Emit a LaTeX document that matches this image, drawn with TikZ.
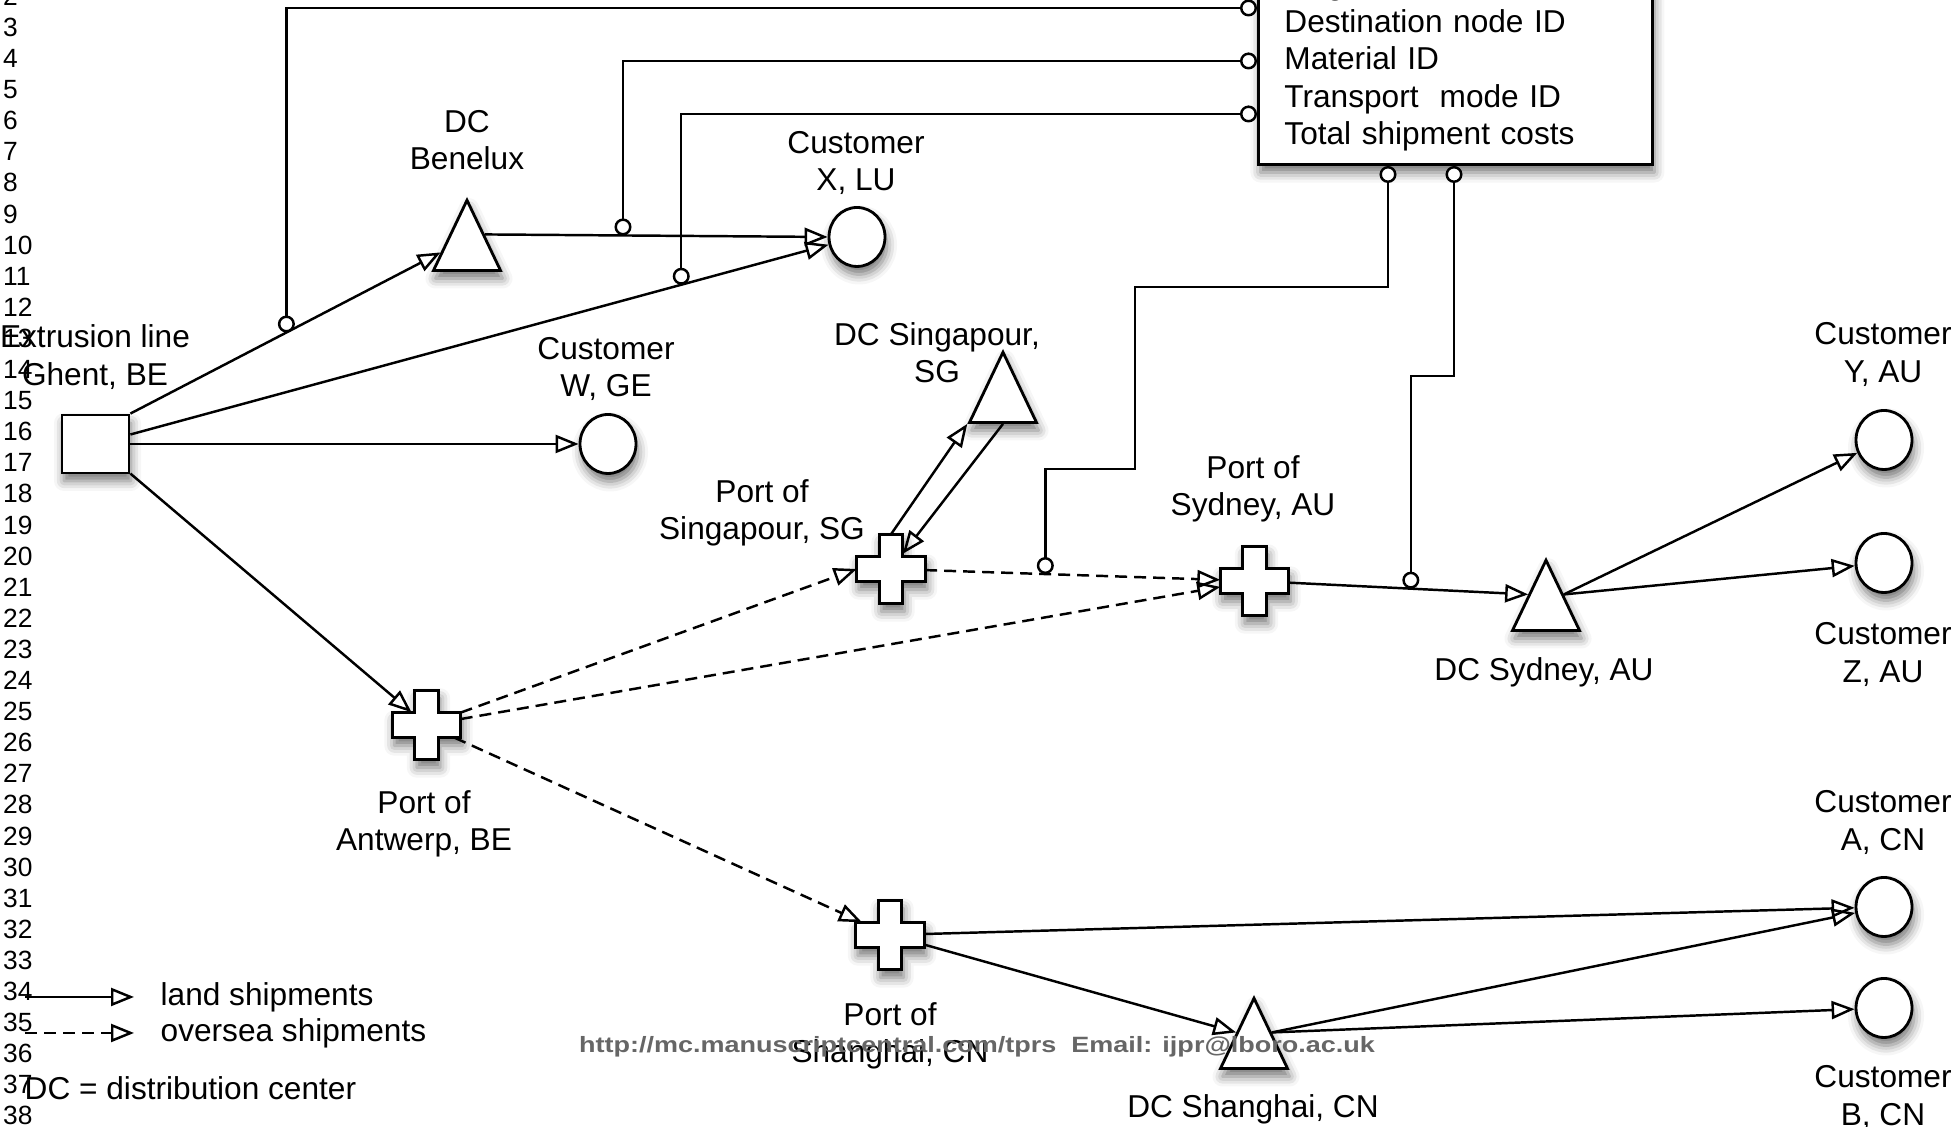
\documentclass[tikz,border=0pt]{standalone}
\usepackage{fontspec}
\setmainfont{Liberation Sans}
\usetikzlibrary{arrows.meta, shapes.geometric, shadows.blur, calc}

% port = plus sign built from two arm nodes
\newcommand{\portcross}[2]{%
  \node[armh] (#1) at (#2) {};
  \node[armv] (#1v) at (#2) {};
  \draw[outline, fill=white, soft] (#1.north west) -- (#1.north west -| #1v.west) -- (#1v.north west)
    -- (#1v.north east) -- (#1.north east -| #1v.east) -- (#1.north east)
    -- (#1.south east) -- (#1.south east -| #1v.east) -- (#1v.south east)
    -- (#1v.south west) -- (#1.south west -| #1v.west) -- (#1.south west) -- cycle;
}

\begin{document}
\begin{tikzpicture}[
  outline/.style={draw=black, line width=0.8pt},
  soft/.style={blur shadow={shadow xshift=0.02cm, shadow yshift=-0.08cm, shadow blur radius=0.1cm, shadow opacity=55}},
  plant/.style={outline, fill=white, soft, rectangle, minimum width=0.67cm, minimum height=0.58cm, inner sep=0pt},
  dc/.style={outline, fill=white, soft, isosceles triangle, isosceles triangle apex angle=51,
    shape border rotate=90, minimum width=0.67cm, minimum height=0.70cm, inner sep=0pt, anchor=apex},
  cust/.style={outline, fill=white, soft, ellipse, minimum width=0.56cm, minimum height=0.59cm, inner sep=0pt},
  armh/.style={rectangle, minimum width=0.67cm, minimum height=0.24cm, inner sep=0pt},
  armv/.style={rectangle, minimum width=0.22cm, minimum height=0.68cm, inner sep=0pt},
  record/.style={outline, fill=white, soft, rectangle, anchor=south west, text width=3.42cm,
    inner xsep=0.26cm, minimum height=2.06cm, align=left, font=\fontsize{9}{10.65}\selectfont},
  lbl/.style={align=center, inner sep=0pt, font=\fontsize{9}{10.6}\selectfont},
  lineno/.style={anchor=west, inner sep=0pt, font=\fontsize{7.5}{8}\selectfont},
  land/.style={line width=0.7pt, -{Triangle[open, length=0.23cm, width=0.18cm]}},
  sea/.style={land, dash pattern=on 0.12cm off 0.07cm},
  link/.style={line width=0.7pt, {Circle[open, fill=white, length=0.17cm]}-{Circle[open, fill=white, length=0.17cm]}}
]
  \useasboundingbox (0,0) rectangle (19.51,11.27);
  \clip (0,0) rectangle (19.51,11.27);

  % line numbers
  \foreach \n in {2,...,38}
    \node[lineno] (ln\n) at (0.025,{10.996-(\n-3)*0.311}) {\n};

  % plant
  \node[plant] (ext) at (0.955,6.83) {};
  \node[lbl] (ext-l) at (0.95,7.70) {Extrusion line\\Ghent, BE};

  % distribution centers
  \node[dc] (dcb) at (4.67,9.30) {};
  \node[lbl] (dcb-l) at (4.67,9.865) {DC\\Benelux};
  \node[dc] (dcsg) at (10.03,7.78) {};
  \node[lbl] (dcsg-l) at (9.37,7.74) {DC Singapour,\\SG};
  \node[dc] (dcsy) at (15.46,5.70) {};
  \node[lbl] (dcsy-l) at (15.44,4.55) {DC Sydney, AU};
  \node[dc] (dcsh) at (12.54,1.32) {};
  \node[lbl] (dcsh-l) at (12.53,0.18) {DC Shanghai, CN};

  % customers
  \node[cust] (cx) at (8.57,8.90) {};
  \node[lbl] (cx-l) at (8.56,9.64) {Customer\\X, LU};
  \node[cust] (cw) at (6.08,6.83) {};
  \node[lbl] (cw-l) at (6.06,7.58) {Customer\\W, GE};
  \node[cust] (cy) at (18.84,6.87) {};
  \node[lbl] (cy-l) at (18.83,7.725) {Customer\\Y, AU};
  \node[cust] (cz) at (18.84,5.64) {};
  \node[lbl] (cz-l) at (18.83,4.725) {Customer\\Z, AU};
  \node[cust] (ca) at (18.84,2.20) {};
  \node[lbl] (ca-l) at (18.83,3.045) {Customer\\A, CN};
  \node[cust] (cb) at (18.84,1.19) {};
  \node[lbl] (cb-l) at (18.83,0.295) {Customer\\B, CN};

  % ports
  \portcross{pant}{4.265,4.02}
  \node[lbl] (pant-l) at (4.24,3.035) {Port of\\Antwerp, BE};
  \portcross{psg}{8.91,5.58}
  \node[lbl] (psg-l) at (7.62,6.145) {Port of\\Singapour, SG};
  \portcross{psy}{12.545,5.46}
  \node[lbl] (psy-l) at (12.53,6.38) {Port of\\Sydney, AU};
  \portcross{psh}{8.90,1.92}
  \node[lbl] (psh-l) at (8.90,0.915) {Port of\\Shanghai, CN};

  % shipment record
  \node[record] (rec) at (12.57,9.61)
       {Origin node ID\\Destination node ID\\Material ID\\Transport\ \ mode ID\\Total shipment costs};

  % shipments
  \draw[land] (ext.north east) -- coordinate[pos=0.503] (t1) ($(dcb.left corner)!0.26!(dcb.apex)$);
  \draw[land] (ext) -- coordinate[pos=0.789] (t3) (cx);
  \draw[land] (dcb.right side) -- coordinate[pos=0.403] (t2) (cx.west);
  \draw[land] (ext) -- (cw);
  \draw[land] (ext) -- (pant);
  \draw[sea] (pant) -- (psg.west);
  \draw[sea] (pant) -- (psy);
  \draw[sea] (pant) -- (psh);
  \draw[land] (psgv.north) -- (dcsg.left corner);
  \draw[land] (dcsg.lower side) -- (psgv);
  \draw[sea] (psg) -- coordinate[pos=0.407] (t4) (psy);
  \draw[land] (psy) -- coordinate[pos=0.51] (t5) (dcsy.left side);
  \draw[land] (dcsy.right side) -- (cy);
  \draw[land] (dcsy.right side) -- (cz);
  \draw[land] (psh) -- (ca);
  \draw[land] (psh) -- (dcsh.left side);
  \draw[land] (dcsh.right side) -- (ca);
  \draw[land] (dcsh.right side) -- (cb);

  % record links
  \draw[link] (rec.west |- 0,11.19) -| (t1);
  \draw[link] (rec.west |- 0,10.66) -| (t2);
  \draw[link] (rec.west |- 0,10.13) -| (t3);
  \draw[link] (rec.south -| 13.88,0) |- (11.35,8.40) |- (t4 |- 0,6.58) -- (t4);
  \draw[link] (rec.south -| 14.54,0) |- (t5 |- 0,7.51) -- (t5);

  % legend
  \coordinate (land-a) at (0.25,1.30);
  \coordinate (land-b) at (1.34,1.30);
  \coordinate (sea-a) at (0.25,0.94);
  \coordinate (sea-b) at (1.34,0.94);
  \draw[land] (land-a) -- (land-b);
  \draw[sea] (sea-a) -- (sea-b);
  \node[lbl, anchor=west] (land-l) at (1.60,1.30) {land shipments};
  \node[lbl, anchor=west] (sea-l) at (1.60,0.94) {oversea shipments};
  \node[lbl, anchor=west] (dc-l) at (0.24,0.39) {DC = distribution center};

  % watermark
  \node[inner sep=0pt, font=\bfseries\fontsize{6.3}{7}\selectfont, text=black!60] (wm) at (9.77,0.80)
       {\scalebox{1.22}[1]{http://mc.manuscriptcentral.com/tprs\ \ Email: ijpr@lboro.ac.uk}};
\end{tikzpicture}
\end{document}
